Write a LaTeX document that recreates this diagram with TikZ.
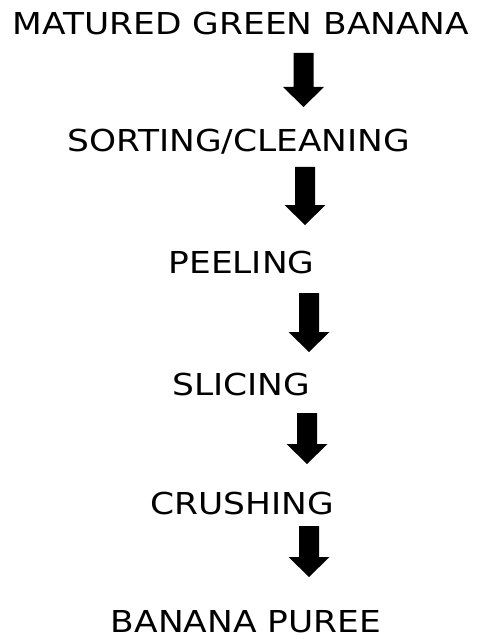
\documentclass[tikz,border=0pt]{standalone}
\usepackage{fontspec}
\setmainfont{DejaVu Sans}[FakeStretch=1.14]
\begin{document}
\begin{tikzpicture}[x=1pt,y=1pt,
  lbl/.style={anchor=base,inner sep=0pt,font=\fontsize{30.2pt}{36pt}\selectfont}]
\useasboundingbox (0,0) rectangle (476,-639);
\newcommand\blockarr[2]{%
  \fill ([xshift=-10pt]#1) -- ([xshift=10pt]#1) -- ([xshift=10pt,yshift=20pt]#2)
    -- ([xshift=20.5pt,yshift=20pt]#2) -- (#2) -- ([xshift=-20.5pt,yshift=20pt]#2)
    -- ([xshift=-10pt,yshift=20pt]#2) -- cycle;}
\node[lbl] (t1) at (241,-35) {MATURED GREEN BANANA};
\node[lbl] (t2) at (239,-152) {SORTING/CLEANING};
\node[lbl] (t3) at (241.5,-273) {PEELING};
\node[lbl] (t4) at (241.5,-395) {SLICING};
\node[lbl] (t5) at (242.5,-514) {CRUSHING};
\node[lbl] (t6) at (246,-632) {BANANA PUREE};
\coordinate (a1s) at (303.5,-53);  \coordinate (a1e) at (303.5,-107);
\coordinate (a2s) at (305,-167);   \coordinate (a2e) at (305,-225);
\coordinate (a3s) at (309,-293);   \coordinate (a3e) at (309,-352);
\coordinate (a4s) at (307,-413);   \coordinate (a4e) at (307,-464);
\coordinate (a5s) at (309,-526);   \coordinate (a5e) at (309,-577);
\blockarr{a1s}{a1e}
\blockarr{a2s}{a2e}
\blockarr{a3s}{a3e}
\blockarr{a4s}{a4e}
\blockarr{a5s}{a5e}
\end{tikzpicture}
\end{document}
